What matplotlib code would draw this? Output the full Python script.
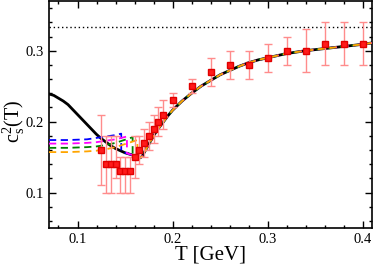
import numpy as np
import matplotlib
matplotlib.use("Agg")
import matplotlib.pyplot as plt
from matplotlib.ticker import MultipleLocator

plt.rcParams['font.family'] = ['Liberation Serif', 'DejaVu Serif']
plt.rcParams['mathtext.fontset'] = 'custom'
plt.rcParams['mathtext.rm'] = 'Liberation Serif'
plt.rcParams['mathtext.it'] = 'Liberation Serif'

# lattice data
T_data = [0.125, 0.13, 0.135, 0.14, 0.145, 0.15, 0.155, 0.16, 0.165, 0.17, 0.175, 0.18,
          0.185, 0.19, 0.20, 0.22, 0.24, 0.26, 0.28, 0.30, 0.32, 0.34, 0.36, 0.38, 0.40]
cs2_data = [0.16, 0.14, 0.14, 0.14, 0.13, 0.13, 0.13, 0.15, 0.16, 0.17, 0.18, 0.19,
            0.20, 0.21, 0.23, 0.25, 0.27, 0.28, 0.28, 0.29, 0.30, 0.30, 0.31, 0.31, 0.31]
err_lo = [0.05, 0.04, 0.04, 0.02, 0.03, 0.03, 0.03, 0.03, 0.02, 0.02, 0.02, 0.02,
          0.02, 0.02, 0.01, 0.01, 0.02, 0.02, 0.02, 0.02, 0.02, 0.03, 0.03, 0.03, 0.03]
err_hi = [0.05, 0.04, 0.04, 0.04, 0.02, 0.02, 0.02, 0.03, 0.02, 0.02, 0.02, 0.02,
          0.02, 0.02, 0.01, 0.01, 0.02, 0.02, 0.02, 0.02, 0.02, 0.03, 0.03, 0.03, 0.03]

# black model curve
T_curve = [0.07, 0.075, 0.08, 0.085, 0.09, 0.095, 0.10, 0.105, 0.11, 0.115, 0.12, 0.125,
           0.13, 0.135, 0.14, 0.145, 0.15, 0.155, 0.16, 0.163, 0.166, 0.168, 0.17, 0.175,
           0.18, 0.185, 0.19, 0.195, 0.20, 0.21, 0.22, 0.23, 0.24, 0.25, 0.26, 0.27, 0.28,
           0.29, 0.30, 0.32, 0.34, 0.36, 0.38, 0.40, 0.41]
cs2_curve = [0.239, 0.237, 0.233, 0.229, 0.224, 0.217, 0.210, 0.203, 0.196, 0.189, 0.182, 0.176,
             0.171, 0.166, 0.162, 0.159, 0.156, 0.154, 0.152, 0.150, 0.149, 0.151, 0.156, 0.168,
             0.180, 0.190, 0.199, 0.208, 0.216, 0.229, 0.240, 0.250, 0.258, 0.266, 0.272, 0.278,
             0.283, 0.287, 0.290, 0.296, 0.300, 0.303, 0.306, 0.309, 0.311]

# low-T branches of coloured dashed curves: (values at T_low, end T, value at end)
T_low = [0.07, 0.09, 0.11, 0.12, 0.13, 0.14]
branches = {
    'blue':    ([0.174, 0.174, 0.175, 0.177, 0.179, 0.181], 0.146, 0.183),
    'magenta': ([0.169, 0.169, 0.170, 0.171, 0.173, 0.175], 0.152, 0.179),
    'green':   ([0.163, 0.163, 0.164, 0.165, 0.167, 0.170], 0.158, 0.178),
    'orange':  ([0.157, 0.157, 0.158, 0.159, 0.161, 0.164], 0.163, 0.174),
}
branch_colors = {'blue': '#0000ff', 'magenta': '#ff00ff', 'green': '#008000', 'orange': '#ffa500'}

fig = plt.figure(figsize=(3.74, 2.66), dpi=100)
ax = fig.add_axes([0.131, 0.143, 0.864, 0.853])

ax.axhline(1/3, color='black', ls=(0, (1, 2)), lw=1.0)

ax.plot(T_curve, cs2_curve, color='black', lw=2.0, zorder=3, solid_joinstyle='round')

for name, (vals, Tc, vend) in branches.items():
    Tc_black = np.interp(Tc, T_curve, cs2_curve)
    xs = list(T_low) + [Tc, Tc] + [t for t in T_curve if t > Tc]
    ys = list(vals) + [vend, Tc_black] + [c for t, c in zip(T_curve, cs2_curve) if t > Tc]
    ax.plot(xs, ys, color=branch_colors[name], lw=1.3, ls=(0, (4, 2.5)), zorder=4)

ax.errorbar(T_data, cs2_data, yerr=[err_lo, err_hi], fmt='s', color='#ff0000',
            ms=4.5, mec='#e00000', mfc='#ff1a1a', ecolor='#ff8c8c', elinewidth=1.0,
            capsize=3, capthick=1.0, zorder=5)

ax.set_xlim(0.07, 0.41)
ax.set_ylim(0.05, 0.37)
ax.set_xticks([0.1, 0.2, 0.3, 0.4])
ax.set_yticks([0.1, 0.2, 0.3])
ax.set_xticklabels(['0.1', '0.2', '0.3', '0.4'])
ax.set_yticklabels(['0.1', '0.2', '0.3'])
ax.xaxis.set_minor_locator(MultipleLocator(0.02))
ax.yaxis.set_minor_locator(MultipleLocator(0.02))
ax.tick_params(which='both', direction='in', top=True, right=True, labelsize=10.5, width=1.0)
ax.tick_params(which='major', length=5)
ax.tick_params(which='minor', length=2.5)
for s in ax.spines.values():
    s.set_linewidth(1.2)

ax.set_xlabel('T [GeV]', fontsize=15, labelpad=0)
ax.set_ylabel(r'c$_\mathregular{s}^\mathregular{2}$(T)', fontsize=14.5)
ax.yaxis.set_label_coords(-0.068, 0.47)

fig.savefig('out.png', dpi=100)
